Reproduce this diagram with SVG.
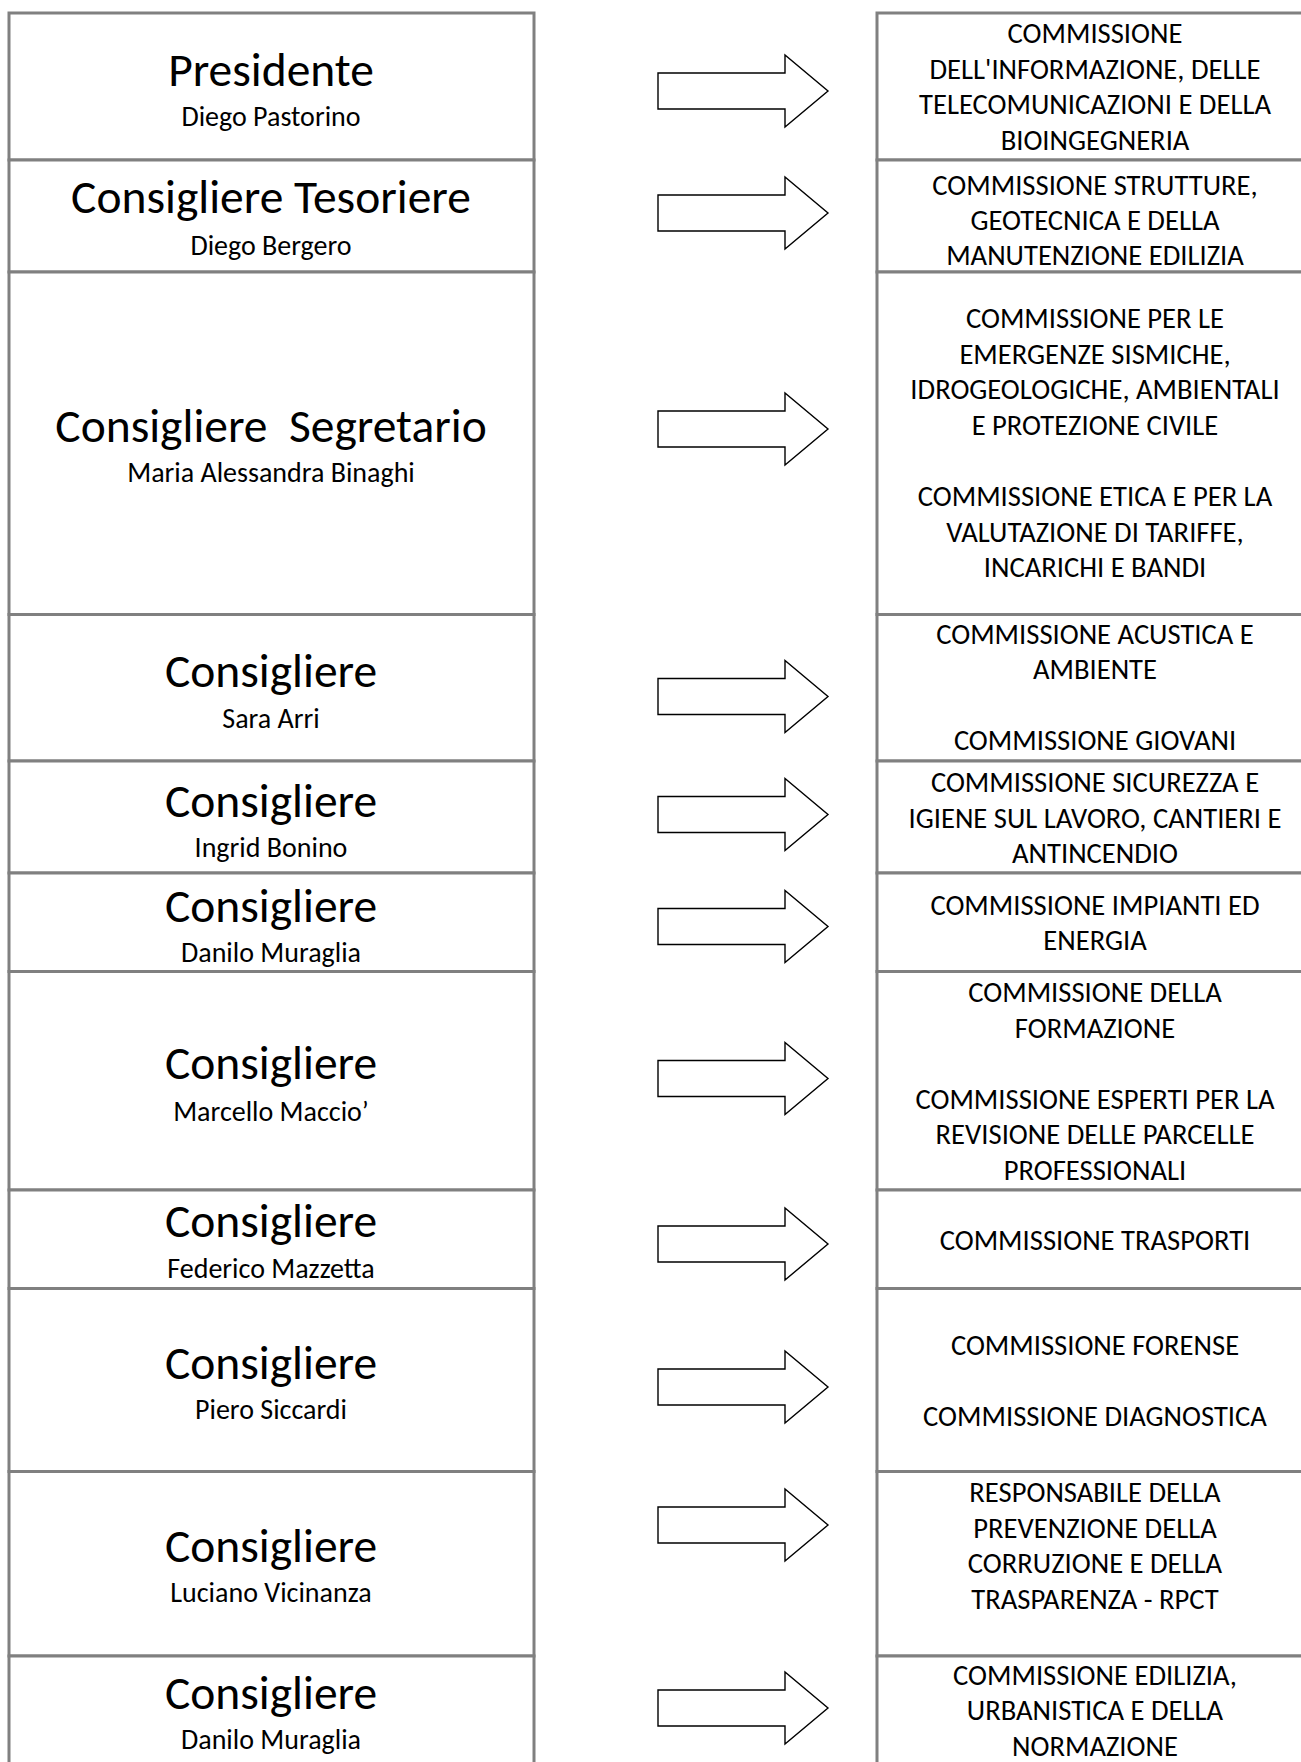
<svg xmlns="http://www.w3.org/2000/svg" width="1301" height="1762" viewBox="0 0 1301 1762">
<style>
.box{fill:#fff;stroke:#808080;stroke-width:3}
.t{font-family:Carlito,Lato,"Liberation Sans",sans-serif;text-anchor:middle;fill:#000}
.title{font-size:47.5px}
.name{font-size:28px}
.com{font-size:28.6px}
.arrow{fill:#fff;stroke:#000;stroke-width:1.4;stroke-linejoin:miter}
</style>
<rect width="1301" height="1762" fill="#fff"/>
<g id="left-column">
<g id="n-presidente"><rect class="box" x="9" y="13" width="525" height="147"/>
<text class="t title" x="271" y="86">Presidente</text><text class="t name" x="271" y="126">Diego Pastorino</text></g>
<g id="n-tesoriere"><rect class="box" x="9" y="160" width="525" height="112"/>
<text class="t title" x="271" y="213">Consigliere Tesoriere</text><text class="t name" x="271" y="255">Diego Bergero</text></g>
<g id="n-segretario"><rect class="box" x="9" y="272" width="525" height="342.5"/>
<text class="t title" x="271" y="442" xml:space="preserve">Consigliere  Segretario</text><text class="t name" x="271" y="482">Maria Alessandra Binaghi</text></g>
<g id="n-arri"><rect class="box" x="9" y="614.5" width="525" height="146.5"/>
<text class="t title" x="271" y="687">Consigliere</text><text class="t name" x="271" y="728">Sara Arri</text></g>
<g id="n-bonino"><rect class="box" x="9" y="761" width="525" height="112"/>
<text class="t title" x="271" y="817">Consigliere</text><text class="t name" x="271" y="857">Ingrid Bonino</text></g>
<g id="n-muraglia1"><rect class="box" x="9" y="873" width="525" height="98.5"/>
<text class="t title" x="271" y="922">Consigliere</text><text class="t name" x="271" y="962">Danilo Muraglia</text></g>
<g id="n-maccio"><rect class="box" x="9" y="971.5" width="525" height="218.5"/>
<text class="t title" x="271" y="1079">Consigliere</text><text class="t name" x="271" y="1121">Marcello Maccio’</text></g>
<g id="n-mazzetta"><rect class="box" x="9" y="1190" width="525" height="98.5"/>
<text class="t title" x="271" y="1237">Consigliere</text><text class="t name" x="271" y="1278">Federico Mazzetta</text></g>
<g id="n-siccardi"><rect class="box" x="9" y="1288.5" width="525" height="183"/>
<text class="t title" x="271" y="1379">Consigliere</text><text class="t name" x="271" y="1419">Piero Siccardi</text></g>
<g id="n-vicinanza"><rect class="box" x="9" y="1471.5" width="525" height="184.5"/>
<text class="t title" x="271" y="1562">Consigliere</text><text class="t name" x="271" y="1602">Luciano Vicinanza</text></g>
<g id="n-muraglia2"><rect class="box" x="9" y="1656" width="525" height="120"/>
<text class="t title" x="271" y="1709">Consigliere</text><text class="t name" x="271" y="1749">Danilo Muraglia</text></g>
</g>
<g id="right-column">
<g id="c-informazione"><rect class="box" x="877" y="13" width="440" height="147"/>
<text class="t com"><tspan x="1095" y="43">COMMISSIONE</tspan><tspan x="1095" y="79">DELL'INFORMAZIONE, DELLE</tspan><tspan x="1095" y="114">TELECOMUNICAZIONI E DELLA</tspan><tspan x="1095" y="150">BIOINGEGNERIA</tspan></text></g>
<g id="c-strutture"><rect class="box" x="877" y="160" width="440" height="112"/>
<text class="t com"><tspan x="1095" y="195">COMMISSIONE STRUTTURE,</tspan><tspan x="1095" y="230">GEOTECNICA E DELLA</tspan><tspan x="1095" y="265">MANUTENZIONE EDILIZIA</tspan></text></g>
<g id="c-emergenze"><rect class="box" x="877" y="272" width="440" height="342.5"/>
<text class="t com"><tspan x="1095" y="328">COMMISSIONE PER LE</tspan><tspan x="1095" y="363.5">EMERGENZE SISMICHE,</tspan><tspan x="1095" y="399">IDROGEOLOGICHE, AMBIENTALI</tspan><tspan x="1095" y="434.5">E PROTEZIONE CIVILE</tspan><tspan x="1095" y="506">COMMISSIONE ETICA E PER LA</tspan><tspan x="1095" y="541.5">VALUTAZIONE DI TARIFFE,</tspan><tspan x="1095" y="577">INCARICHI E BANDI</tspan></text></g>
<g id="c-acustica"><rect class="box" x="877" y="614.5" width="440" height="146.5"/>
<text class="t com"><tspan x="1095" y="643.5">COMMISSIONE ACUSTICA E</tspan><tspan x="1095" y="679">AMBIENTE</tspan><tspan x="1095" y="750">COMMISSIONE GIOVANI</tspan></text></g>
<g id="c-sicurezza"><rect class="box" x="877" y="761" width="440" height="112"/>
<text class="t com"><tspan x="1095" y="792">COMMISSIONE SICUREZZA E</tspan><tspan x="1095" y="827.5">IGIENE SUL LAVORO, CANTIERI E</tspan><tspan x="1095" y="862.5">ANTINCENDIO</tspan></text></g>
<g id="c-impianti"><rect class="box" x="877" y="873" width="440" height="98.5"/>
<text class="t com"><tspan x="1095" y="915">COMMISSIONE IMPIANTI ED</tspan><tspan x="1095" y="950">ENERGIA</tspan></text></g>
<g id="c-formazione"><rect class="box" x="877" y="971.5" width="440" height="218.5"/>
<text class="t com"><tspan x="1095" y="1002">COMMISSIONE DELLA</tspan><tspan x="1095" y="1037.5">FORMAZIONE</tspan><tspan x="1095" y="1108.5">COMMISSIONE ESPERTI PER LA</tspan><tspan x="1095" y="1144">REVISIONE DELLE PARCELLE</tspan><tspan x="1095" y="1180">PROFESSIONALI</tspan></text></g>
<g id="c-trasporti"><rect class="box" x="877" y="1190" width="440" height="98.5"/>
<text class="t com" x="1095" y="1250">COMMISSIONE TRASPORTI</text></g>
<g id="c-forense"><rect class="box" x="877" y="1288.5" width="440" height="183"/>
<text class="t com"><tspan x="1095" y="1355">COMMISSIONE FORENSE</tspan><tspan x="1095" y="1426">COMMISSIONE DIAGNOSTICA</tspan></text></g>
<g id="c-rpct"><rect class="box" x="877" y="1471.5" width="440" height="184.5"/>
<text class="t com"><tspan x="1095" y="1502">RESPONSABILE DELLA</tspan><tspan x="1095" y="1537.5">PREVENZIONE DELLA</tspan><tspan x="1095" y="1573">CORRUZIONE E DELLA</tspan><tspan x="1095" y="1608.5">TRASPARENZA - RPCT</tspan></text></g>
<g id="c-edilizia"><rect class="box" x="877" y="1656" width="440" height="120"/>
<text class="t com"><tspan x="1095" y="1684.5">COMMISSIONE EDILIZIA,</tspan><tspan x="1095" y="1720">URBANISTICA E DELLA</tspan><tspan x="1095" y="1756">NORMAZIONE</tspan></text></g>
</g>
<g id="connectors">
<path class="arrow" d="M658,73 H785 V55 L828,91 L785,127 V109 H658 Z"/>
<path class="arrow" d="M658,195 H785 V177 L828,213 L785,249 V231 H658 Z"/>
<path class="arrow" d="M658,411 H785 V393 L828,429 L785,465 V447 H658 Z"/>
<path class="arrow" d="M658,678.5 H785 V660.5 L828,696.5 L785,732.5 V714.5 H658 Z"/>
<path class="arrow" d="M658,796.5 H785 V778.5 L828,814.5 L785,850.5 V832.5 H658 Z"/>
<path class="arrow" d="M658,908.5 H785 V890.5 L828,926.5 L785,962.5 V944.5 H658 Z"/>
<path class="arrow" d="M658,1060.5 H785 V1042.5 L828,1078.5 L785,1114.5 V1096.5 H658 Z"/>
<path class="arrow" d="M658,1226 H785 V1208 L828,1244 L785,1280 V1262 H658 Z"/>
<path class="arrow" d="M658,1369 H785 V1351 L828,1387 L785,1423 V1405 H658 Z"/>
<path class="arrow" d="M658,1507 H785 V1489 L828,1525 L785,1561 V1543 H658 Z"/>
<path class="arrow" d="M658,1690 H785 V1672 L828,1708 L785,1744 V1726 H658 Z"/>
</g>
</svg>
